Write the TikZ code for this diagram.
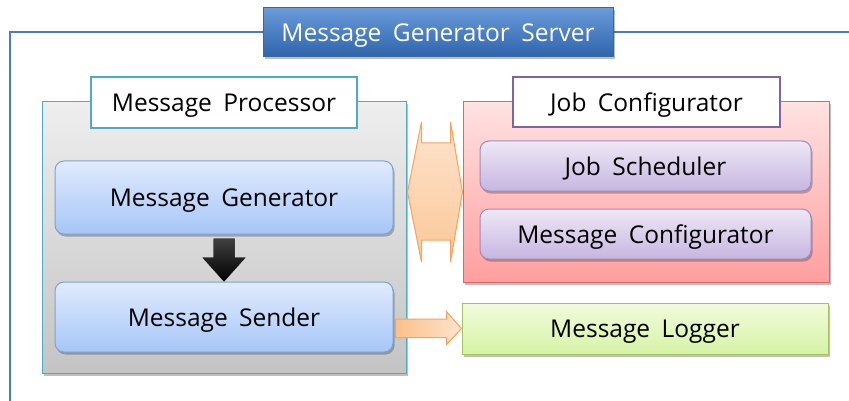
\documentclass[tikz,border=0pt]{standalone}
\usepackage{fontspec}
\setmainfont{Open Sans}[WordSpace=1.8]
\usetikzlibrary{shadows,calc}
\definecolor{frameblue}{HTML}{4A7EBB}
\definecolor{titletop}{HTML}{6A9BDA}
\definecolor{titlebot}{HTML}{2E64AC}
\definecolor{titleborder}{HTML}{35689F}
\definecolor{teal}{HTML}{4BACC6}
\definecolor{greytop}{HTML}{EEEEEE}
\definecolor{greybot}{HTML}{C4C4C4}
\definecolor{bluetop}{HTML}{E0EBFD}
\definecolor{bluebot}{HTML}{A6C6F7}
\definecolor{blueborder}{HTML}{7EA2CF}
\definecolor{redborder}{HTML}{E06666}
\definecolor{pinktop}{HTML}{FFE2E2}
\definecolor{pinkbot}{HTML}{FF9E9E}
\definecolor{purpborder}{HTML}{8064A2}
\definecolor{lavtop}{HTML}{EEE8F6}
\definecolor{lavbot}{HTML}{C6B6E0}
\definecolor{lavborder}{HTML}{9C8AC2}
\definecolor{greentop}{HTML}{F2FBDC}
\definecolor{greenbot}{HTML}{D6F3A6}
\definecolor{greenborder}{HTML}{A2C463}
\definecolor{orangeborder}{HTML}{F7A25E}
\definecolor{orangetop}{HTML}{FDE4CE}
\definecolor{orangebot}{HTML}{FBC797}
\tikzset{
  txt/.style={font=\fontsize{24.5}{28}\selectfont, text=black, inner sep=0pt, text depth=0pt},
  shad/.style={drop shadow={shadow xshift=1.5pt, shadow yshift=-2.5pt, opacity=0.25, fill=black}},
  group/.style={rectangle, line width=1pt, shad},
  labelbox/.style={rectangle, draw, fill=white, line width=2.5pt, txt},
  item/.style={rectangle, rounded corners=9pt, line width=1pt, txt, shad},
}
\begin{document}
\begin{tikzpicture}[x=1pt,y=-1pt]
\useasboundingbox (0,0) rectangle (849,401);
% outer server frame
\draw[frameblue, line width=2.5pt] (10,405) -- (10,32) -- (852,32);
\node[rectangle, draw=titleborder, line width=1pt, top color=titletop, bottom color=titlebot,
      minimum width=350pt, minimum height=49pt, txt, text=white, shad] (srv) at (438,32.5) {Message Generator Server};
% Message Processor group
\node[group, draw=teal, top color=greytop, bottom color=greybot,
      minimum width=364pt, minimum height=271pt] (mp) at (224,237.5) {};
\node[labelbox, draw=teal, minimum width=266pt, minimum height=51pt] (mpl) at (224,102.5) {Message Processor};
\node[item, draw=blueborder, top color=bluetop, bottom color=bluebot,
      minimum width=338pt, minimum height=73pt] (mg) at (224,197.5) {Message Generator};
\node[item, draw=blueborder, top color=bluetop, bottom color=bluebot,
      minimum width=338pt, minimum height=70pt] (ms) at (224,317) {Message Sender};
% Job Configurator group
\node[group, draw=redborder, top color=pinktop, bottom color=pinkbot,
      minimum width=366pt, minimum height=180pt] (jc) at (646,192) {};
\node[labelbox, draw=purpborder, minimum width=267pt, minimum height=50pt] (jcl) at (646.5,102) {Job Configurator};
\node[item, draw=lavborder, top color=lavtop, bottom color=lavbot,
      minimum width=331pt, minimum height=50pt] (js) at (645.5,166) {Job Scheduler};
\node[item, draw=lavborder, top color=lavtop, bottom color=lavbot,
      minimum width=331pt, minimum height=50pt] (mc) at (645.5,234) {Message Configurator};
% Message Logger
\node[rectangle, draw=greenborder, line width=1pt, top color=greentop, bottom color=greenbot,
      minimum width=366pt, minimum height=51pt, txt, shad] (ml) at (645,328.5) {Message Logger};
% black arrow generator -> sender
\coordinate (ba) at ($(mg.south)+(0,4)$);
\coordinate (bb) at (ms.north);
\fill[top color=black!75, bottom color=black]
  ($(ba)+(-10.5,0)$) -- ($(ba)+(10.5,0)$) -- ($(bb)+(10.5,-24)$) -- ($(bb)+(21.5,-24)$) --
  (bb) -- ($(bb)+(-21.5,-24)$) -- ($(bb)+(-10.5,-24)$) -- cycle;
% orange double arrow processor <-> configurator
\coordinate (dl) at ($(mp.east |- jc.center)+(1,0)$);
\coordinate (dr) at (jc.west);
\draw[orangeborder, line width=1pt, top color=orangetop, bottom color=orangebot]
  (dl) -- ($(dl)+(14,-70)$) -- ($(dl)+(14,-49)$) -- ($(dr)+(-12,-49)$) -- ($(dr)+(-12,-70)$) --
  (dr) -- ($(dr)+(-12,70)$) -- ($(dr)+(-12,48)$) -- ($(dl)+(14,48)$) -- ($(dl)+(14,70)$) -- cycle;
% orange arrow sender -> logger
\coordinate (oa) at ($(ms.east |- ml.west)+(2,0)$);
\coordinate (ob) at (ml.west);
\draw[orangeborder, line width=1pt, left color=orangebot!90!orange, right color=orangetop]
  ($(oa)+(0,-9.5)$) -- ($(ob)+(-15,-9.5)$) -- ($(ob)+(-15,-17)$) -- (ob) --
  ($(ob)+(-15,16)$) -- ($(ob)+(-15,9)$) -- ($(oa)+(0,9)$) -- cycle;
\end{tikzpicture}
\end{document}
